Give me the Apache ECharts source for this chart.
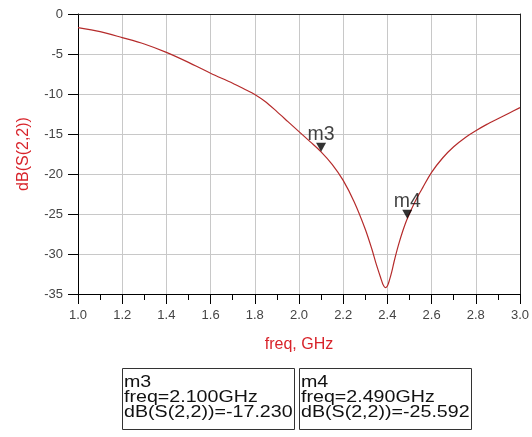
<!DOCTYPE html>
<html>
<head>
<meta charset="utf-8">
<script src="https://cdn.jsdelivr.net/npm/echarts@6/dist/echarts.min.js"></script>
<style>
  html, body { margin: 0; padding: 0; background: #fff; }
  #chart { width: 532px; height: 437px; }
</style>
</head>
<body>
<div id="chart"></div>
<script>
// ---- data ----
const freq = [1.0, 1.1, 1.2, 1.3, 1.4, 1.5, 1.6, 1.7, 1.75, 1.8, 1.85, 1.9, 1.95, 2.0, 2.05, 2.1, 2.15, 2.2, 2.25, 2.3, 2.33, 2.35, 2.37, 2.38, 2.39, 2.40, 2.41, 2.42, 2.43, 2.45, 2.47, 2.49, 2.53, 2.56, 2.6, 2.65, 2.7, 2.75, 2.8, 2.85, 2.9, 2.95, 3.0];
const s22dB = [-1.7, -2.2, -2.95, -3.75, -4.8, -6.05, -7.4, -8.65, -9.35, -10.05, -11.0, -12.2, -13.45, -14.7, -15.95, -17.23, -18.8, -20.8, -23.5, -26.9, -29.4, -31.3, -33.0, -33.8, -34.2, -34.0, -33.2, -32.2, -31.0, -28.9, -27.1, -25.59, -23.2, -21.7, -19.8, -18.0, -16.6, -15.5, -14.6, -13.8, -13.1, -12.4, -11.7];

const markerNames = ['m3', 'm4'];
const markerFreq = [2.100, 2.490];
const markerVal = [-17.230, -25.592];

const xTickLabels = ['1.0', '1.2', '1.4', '1.6', '1.8', '2.0', '2.2', '2.4', '2.6', '2.8', '3.0'];
const yTickLabels = ['-35', '-30', '-25', '-20', '-15', '-10', '-5', '0'];

const xName = 'freq, GHz';
const yName = 'dB(S(2,2))';

// ---- chart ----
const FONT = 'Liberation Sans, Arial, Helvetica, sans-serif';
const RED = '#d8232a';
const chart = echarts.init(document.getElementById('chart'), null, { renderer: 'canvas' });

const lineData = freq.map((f, i) => [f, s22dB[i]]);
const markerData = markerFreq.map((f, i) => ({ name: markerNames[i], value: [f, markerVal[i]] }));

const boxes = [];
const boxX = [122.5, 299.5];
markerNames.forEach((nm, i) => {
  boxes.push({
    type: 'rect',
    shape: { x: boxX[i], y: 368.5, width: 172, height: 61 },
    style: { fill: '#fff', stroke: '#333', lineWidth: 1 },
    z: 10
  });
  boxes.push({
    type: 'text',
    x: boxX[i] + 1.5,
    y: 374.5,
    scaleX: 1.17,
    z: 11,
    style: {
      text: nm + '\nfreq=' + markerFreq[i].toFixed(3) + 'GHz\ndB(S(2,2))=' + markerVal[i].toFixed(3),
      font: '16.8px ' + FONT,
      fill: '#111',
      lineHeight: 15,
      verticalAlign: 'top',
      align: 'left'
    }
  });
});

const option = {
  animation: false,
  backgroundColor: '#fff',
  grid: { left: 78, right: 11, top: 14, bottom: 143, containLabel: false },
  xAxis: [
    {
      type: 'value', min: 1, max: 3, interval: 0.2,
      name: xName, nameLocation: 'middle', nameGap: 43,
      nameTextStyle: { color: RED, fontSize: 16, fontFamily: FONT },
      axisLine: { show: true, onZero: false, lineStyle: { color: '#000', width: 1 } },
      axisTick: { show: true, length: 10, lineStyle: { color: '#000' } },
      minorTick: { show: true, splitNumber: 2, length: 6, lineStyle: { color: '#000' } },
      axisLabel: {
        color: '#444', fontSize: 13, fontFamily: FONT, margin: 15,
        formatter: v => xTickLabels[Math.round((v - 1) / 0.2)]
      },
      splitLine: { show: true, lineStyle: { color: '#c8c8c8', width: 1 } }
    },
    {
      type: 'value', min: 1, max: 3, position: 'top',
      axisLine: { show: true, onZero: false, lineStyle: { color: '#222', width: 1 } },
      axisTick: { show: false }, axisLabel: { show: false }, splitLine: { show: false }
    }
  ],
  yAxis: [
    {
      type: 'value', min: -35, max: 0, interval: 5,
      name: yName, nameLocation: 'middle', nameGap: 46,
      nameTextStyle: { color: RED, fontSize: 16, fontFamily: FONT },
      axisLine: { show: true, onZero: false, lineStyle: { color: '#000', width: 1 } },
      axisTick: { show: true, length: 10, lineStyle: { color: '#000' } },
      axisLabel: {
        color: '#444', fontSize: 13, fontFamily: FONT, margin: 15,
        formatter: v => yTickLabels[Math.round((v + 35) / 5)]
      },
      splitLine: { show: true, lineStyle: { color: '#c8c8c8', width: 1 } }
    },
    {
      type: 'value', min: -35, max: 0, position: 'right',
      axisLine: { show: true, onZero: false, lineStyle: { color: '#222', width: 1 } },
      axisTick: { show: false }, axisLabel: { show: false }, splitLine: { show: false }
    }
  ],
  series: [
    {
      type: 'line',
      data: lineData,
      xAxisIndex: 0, yAxisIndex: 0,
      showSymbol: false,
      smooth: 0.3,
      lineStyle: { color: '#b52b2b', width: 1.2 },
      z: 3
    },
    {
      type: 'scatter',
      data: markerData,
      xAxisIndex: 0, yAxisIndex: 0,
      symbol: 'triangle',
      symbolRotate: 180,
      symbolSize: [10, 9],
      symbolOffset: [0, -4.5],
      itemStyle: { color: '#000' },
      label: {
        show: true, position: 'top', distance: -2,
        formatter: p => p.name,
        color: '#111', fontSize: 19.5, fontFamily: FONT
      },
      z: 5
    }
  ],
  graphic: boxes
};

chart.setOption(option);
</script>
</body>
</html>
